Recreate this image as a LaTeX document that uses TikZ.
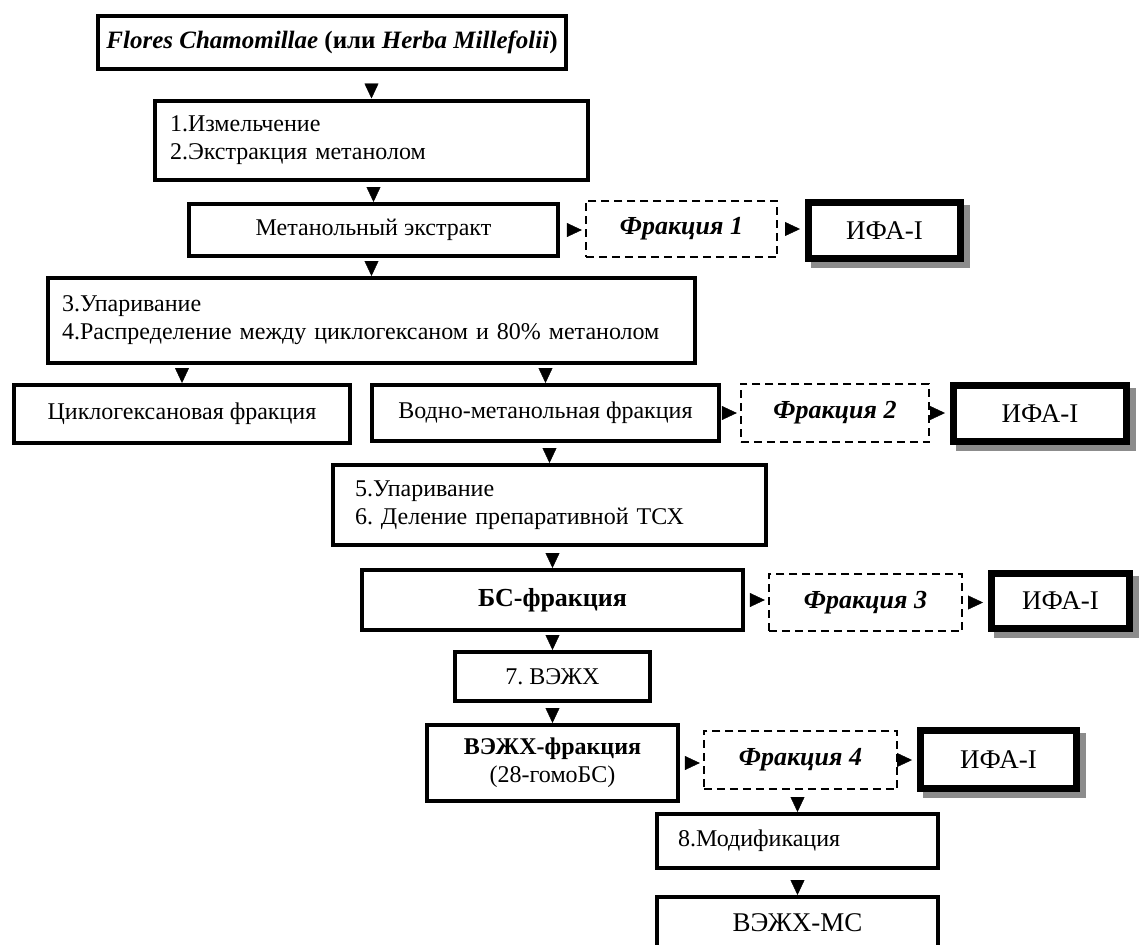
\documentclass[tikz,border=0pt]{standalone}
\usepackage{fontspec}
\setmainfont{Liberation Serif}
\usetikzlibrary{arrows.meta,backgrounds}
\newcommand\myfs{\fontsize{24}{28}\selectfont}
\newcommand\myfsb{\fontsize{26}{30}\selectfont}
\newcommand\myfsc{\fontsize{27}{30}\selectfont}
\frenchspacing
\begin{document}
\begin{tikzpicture}[x=1pt,y=-1pt,
 box/.style={draw, line width=4pt, inner sep=0pt, font=\myfs, align=center},
 lbox/.style={box, align=left},
 dbox/.style={draw, line width=1.8pt, dash pattern=on 8pt off 5pt, inner sep=0pt, font=\myfsb\bfseries\itshape},
 ifa/.style={draw, line width=7pt, fill=white, inner sep=0pt, font=\myfsc},
 conn/.style={draw=white, line width=0.4pt, -{Triangle[length=15pt,width=14pt,color=black,fill=black]}},
 sz/.style 2 args={minimum width=#1pt, minimum height=#2pt},
]
\useasboundingbox (0,0) rectangle (1141,945);

\node[box, sz={468}{53}, font=\fontsize{25}{30}\selectfont\bfseries] (A) at (332,42.5) {\textit{Flores Chamomillae} (или \textit{Herba Millefolii})};
\node[lbox, sz={433}{79}, inner xsep=15pt, text width=403pt] (B) at (371.5,140) {1.Измельчение\\2.Экстракция метанолом};
\node[box, sz={369}{52}] (C) at (373.5,230) {Метанольный экстракт};
\node[dbox, sz={191.5}{56.5}] (F1) at (681.5,229) {Фракция 1};
\node[ifa, sz={152}{56}] (I1) at (884.5,230.5) {ИФА-I};
\node[lbox, sz={647}{85}, inner xsep=14pt, text width=619pt] (D) at (371.5,320.5) {3.Упаривание\\4.Распределение между циклогексаном и 80\% метанолом};
\node[box, sz={336}{58}] (E) at (182,414) {Циклогексановая фракция};
\node[box, sz={347}{56}] (F) at (545.5,413) {Водно-метанольная фракция};
\node[dbox, sz={188.5}{58.5}] (F2) at (835,413) {Фракция 2};
\node[ifa, sz={173}{56}] (I2) at (1040,413.5) {ИФА-I};
\node[lbox, sz={433}{80}, inner xsep=22pt, text width=389pt] (G) at (549.5,505) {5.Упаривание\\6. Деление препаративной ТСХ};
\node[box, sz={381}{60}, font=\myfsb\bfseries] (H) at (552.5,600) {БС-фракция};
\node[dbox, sz={193.5}{57.5}] (F3) at (865.5,602.5) {Фракция 3};
\node[ifa, sz={138}{55}] (I3) at (1060.5,601) {ИФА-I};
\node[box, sz={195}{49}] (J7) at (552.5,676.5) {7. ВЭЖХ};
\node[box, sz={251}{76}] (J) at (552.5,763) {\textbf{ВЭЖХ-фракция}\\(28-гомоБС)};
\node[dbox, sz={193.5}{58.5}] (F4) at (800.5,760) {Фракция 4};
\node[ifa, sz={156}{58}] (I4) at (998.5,759.5) {ИФА-I};
\node[lbox, sz={281}{54}, inner xsep=21pt, text width=239pt] (K) at (797.5,841) {8.Модификация};
\begin{scope}
\clip (0,0) rectangle (1141,945);
\node[box, sz={281}{52}, font=\myfsc] (L) at (797.5,923) {ВЭЖХ-МС};
\end{scope}

\begin{scope}[on background layer]
\foreach \n in {I1,I2,I3,I4}
  \fill[black!45] ([shift={(6,6)}]\n.south west) rectangle ([shift={(6,6)}]\n.north east);
\end{scope}

\draw[conn] (B.north |- A.south) -- (B.north);
\draw[conn] (C.north |- B.south) -- (C.north);
\draw[conn] (D.north |- C.south) -- (D.north);
\draw[conn] (E.north |- D.south) -- (E.north);
\draw[conn] (F.north |- D.south) -- (F.north);
\draw[conn] (G.north |- F.south) -- (G.north);
\draw[conn] (H.north |- G.south) -- (H.north);
\draw[conn] (J7.north |- H.south) -- (J7.north);
\draw[conn] (J.north |- J7.south) -- (J.north);
\draw[conn] (K.north |- F4.south) -- (K.north);
\draw[conn] (L.north |- K.south) -- (L.north);

\draw[conn, shorten >=3pt] (C.east) -- (F1.west |- C.east);
\draw[conn, shorten >=5pt] (F1.east) -- (I1.west |- F1.east);
\draw[conn, shorten >=3pt] (F.east) -- (F2.west |- F.east);
\draw[conn, shorten >=5pt] (F2.east) -- (I2.west |- F2.east);
\draw[conn, shorten >=3pt] (H.east) -- (F3.west |- H.east);
\draw[conn, shorten >=5pt] (F3.east) -- (I3.west |- F3.east);
\draw[conn, shorten >=3pt] (J.east) -- (F4.west |- J.east);
\draw[conn, shorten >=5pt] (F4.east) -- (I4.west |- F4.east);
\end{tikzpicture}
\end{document}
